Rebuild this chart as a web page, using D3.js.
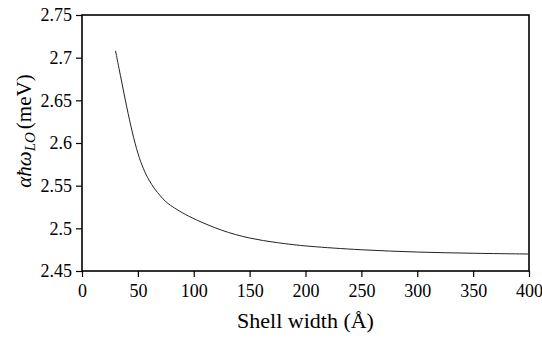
<!DOCTYPE html>
<html>
<head>
<meta charset="utf-8">
<script src="https://cdn.jsdelivr.net/npm/d3@7"></script>
</head>
<body style="margin:0; background:#fff">
<div id="chart"></div>
<script>
// curve values
var shellWidth = [30, 35, 40, 45, 50, 55, 60, 65, 70, 75, 80, 90, 100, 125, 150, 175, 200, 250, 300, 350, 400];
var energy = [2.708, 2.675, 2.642, 2.612, 2.587, 2.569, 2.556, 2.546, 2.538, 2.531, 2.526, 2.518, 2.511, 2.497, 2.488, 2.483, 2.479, 2.4746, 2.472, 2.4707, 2.4699];
var xTicks = [0, 50, 100, 150, 200, 250, 300, 350, 400];
var yTicks = [2.45, 2.5, 2.55, 2.6, 2.65, 2.7, 2.75];

var serif = "Liberation Serif";

// set the dimensions and margins of the graph
var margin = {top: 15, right: 13, bottom: 67, left: 82},
    width = 542 - margin.left - margin.right,
    height = 338 - margin.top - margin.bottom;

var x = d3.scaleLinear().domain([0, 400]).range([0, width]);
var y = d3.scaleLinear().domain([2.45, 2.75]).range([height, 0]);

var svg = d3.select("#chart").append("svg")
    .attr("width", 542)
    .attr("height", 338)
    .append("g")
    .attr("transform", "translate(" + margin.left + "," + margin.top + ")");

// x axis
var xAxis = svg.append("g")
    .attr("transform", "translate(0," + height + ")")
    .call(d3.axisBottom(x).tickValues(xTicks).tickSize(6).tickPadding(7).tickFormat(d3.format("d")));

// y axis
var yAxis = svg.append("g")
    .call(d3.axisLeft(y).tickValues(yTicks).tickSize(6).tickPadding(4).tickFormat(function(d) { return String(+d.toFixed(2)); }));

[xAxis, yAxis].forEach(function(a) {
    a.attr("font-family", serif).attr("font-size", 18);
    a.select(".domain").remove();
    a.selectAll(".tick line").attr("stroke", "#000").attr("stroke-width", 1.2);
    a.selectAll(".tick text").attr("fill", "#000").attr("font-family", serif);
});

// frame
svg.append("rect")
    .attr("x", 0).attr("y", 0)
    .attr("width", width).attr("height", height)
    .attr("fill", "none").attr("stroke", "#000").attr("stroke-width", 1.6);

// the curve
var line = d3.line()
    .x(function(d, i) { return x(shellWidth[i]); })
    .y(function(d) { return y(d); })
    .curve(d3.curveBasis);

svg.append("path")
    .datum(energy)
    .attr("fill", "none")
    .attr("stroke", "#222")
    .attr("stroke-width", 1)
    .attr("d", line);

// x label
svg.append("text")
    .attr("x", width / 2)
    .attr("y", height + 57)
    .attr("text-anchor", "middle")
    .attr("font-family", serif)
    .attr("font-size", 22)
    .text("Shell width (Å)");

// y label
var yl = svg.append("text")
    .attr("transform", "translate(" + (-51) + "," + (height / 2 - 12) + ") rotate(-90)")
    .attr("text-anchor", "middle")
    .attr("font-family", serif)
    .attr("font-size", 21);
yl.append("tspan").attr("font-style", "italic").text("αħω");
yl.append("tspan").attr("font-style", "italic").attr("font-size", 15).attr("dy", 4).text("LO");
yl.append("tspan").attr("dy", -4).attr("dx", 3).text("(meV)");
</script>
</body>
</html>
